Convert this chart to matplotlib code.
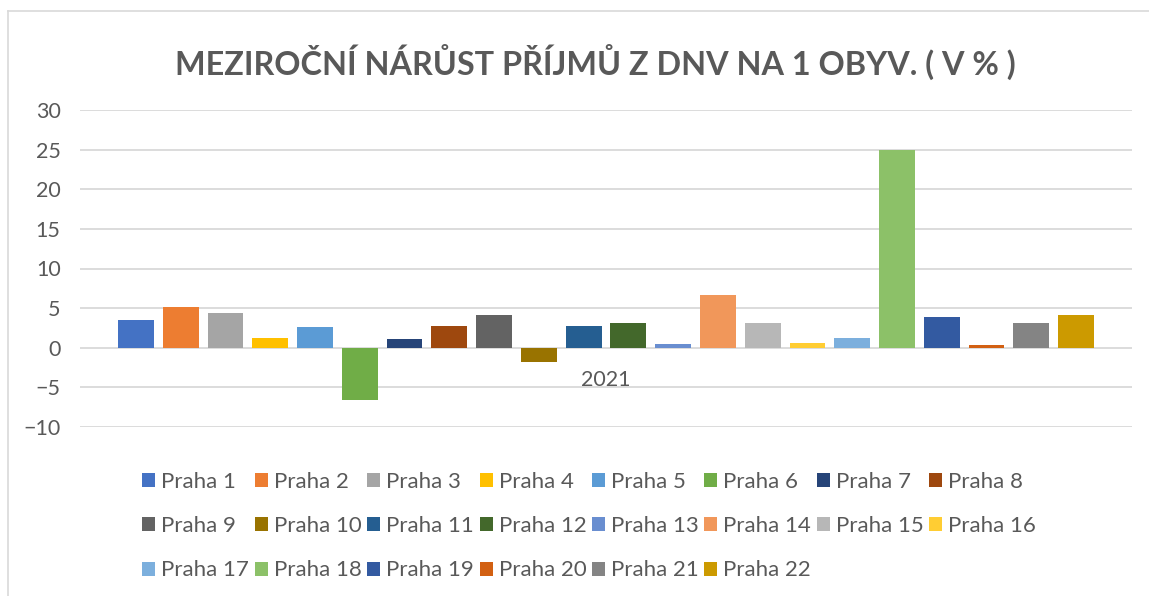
import matplotlib.pyplot as plt
from matplotlib.lines import Line2D

districts = ["Praha %d" % i for i in range(1, 23)]
growth = [3.5, 5.1, 4.4, 1.2, 2.6, -6.6, 1.1, 2.75, 4.15, -1.8, 2.75, 3.1,
          0.45, 6.7, 3.1, 0.6, 1.2, 24.9, 3.9, 0.35, 3.1, 4.15]
colors = ["#4472C4", "#ED7D31", "#A5A5A5", "#FFC000", "#5B9BD5", "#70AD47",
          "#264478", "#9E480E", "#636363", "#997300", "#255E91", "#43682B",
          "#698ED0", "#F1975A", "#B7B7B7", "#FFCD33", "#7CAFDD", "#8CC168",
          "#335AA1", "#D26012", "#848484", "#CC9A00"]
year_label = "2021"
yticks = [-10, -5, 0, 5, 10, 15, 20, 25, 30]

plt.rcParams['font.family'] = ['Lato', 'DejaVu Sans']
grey = "#595959"

fig = plt.figure(figsize=(11.49, 5.96), dpi=100)
ax = fig.add_axes([80 / 1149, 1 - 427 / 596, 1052 / 1149, 317 / 596])

bars = []
for i, (name, val, col) in enumerate(zip(districts, growth, colors)):
    b = ax.bar(i, val, width=0.8, color=col, label=name, zorder=3)
    bars.append(b)

ax.set_xlim(-1.25, 22.25)
ax.set_ylim(-10, 30)
ax.set_yticks(yticks)
ax.yaxis.grid(True, color="#D9D9D9", linewidth=1.3, zorder=0)
ax.tick_params(axis='y', length=0, labelsize=15.5, labelcolor=grey, pad=14)
for s in ax.spines.values():
    s.set_visible(False)

# category label sits under the zero line
ax.spines['bottom'].set_position(('data', 0))
ax.set_xticks([10.5])
ax.set_xticklabels([year_label])
ax.tick_params(axis='x', length=0, labelsize=15.5, labelcolor=grey, pad=16)

fig.text(0.518, 1 - 62 / 596, "MEZIROČNÍ NÁRŮST PŘÍJMŮ Z DNV NA 1 OBYV. ( V % )",
         ha='center', va='center', fontsize=23.3, fontweight='bold', color=grey)

# legend filled row by row
order = []
for c in range(8):
    for r in range(3):
        k = c + 8 * r
        if k < len(districts):
            order.append(k)
leg = fig.legend([bars[k] for k in order], [districts[k] for k in order],
                 ncol=8, loc='upper left', bbox_to_anchor=(142 / 1149, 1 - 472 / 596),
                 frameon=False, fontsize=16, handlelength=0.59, handleheight=0.59,
                 handletextpad=0.27, columnspacing=0.25, labelspacing=1.09,
                 borderpad=0, borderaxespad=0)
for t in leg.get_texts():
    t.set_color(grey)

# thin chart border
fig.add_artist(Line2D([8 / 1149, 8 / 1149], [0, 1 - 11 / 596], transform=fig.transFigure,
                      color="#D9D9D9", linewidth=1.2))
fig.add_artist(Line2D([8 / 1149, 1], [1 - 11 / 596, 1 - 11 / 596], transform=fig.transFigure,
                      color="#D9D9D9", linewidth=1.2))

fig.savefig("out.png", dpi=100)
